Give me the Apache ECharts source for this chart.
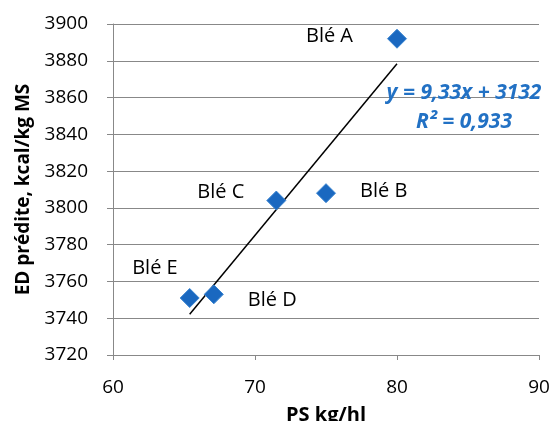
<!DOCTYPE html>
<html lang="fr">
<head>
    <meta charset="UTF-8">
    <title>ED prédite vs PS</title>
    <script src="https://cdn.jsdelivr.net/npm/echarts@6/dist/echarts.min.js"></script>
    <style>
        body { margin: 0; background: #fff; }
        #chart { width: 552px; height: 421px; }
    </style>
</head>
<body>
<div id="chart"></div>
<script>
    // valeurs
    var names = ['Blé A', 'Blé B', 'Blé C', 'Blé D', 'Blé E'];
    var ps = [80, 75, 71.5, 67.1, 65.4];
    var ed = [3892, 3808, 3804, 3753, 3751];
    var slope = 9.33, intercept = 3132;
    var xTicks = [60, 70, 80, 90];
    var yTicks = [3720, 3900, 20];

    // placement des étiquettes (style)
    var labelPos = ['left', 'right', 'left', 'right', 'left'];
    var labelOffset = [[-22, -2], [12, -2], [-10, -8], [12, 6], [10, -30]];

    var pts = names.map(function (n, i) {
        return {
            name: n,
            value: [ps[i], ed[i]],
            label: { position: labelPos[i], offset: labelOffset[i] }
        };
    });
    var xMin = Math.min.apply(null, ps), xMax = Math.max.apply(null, ps);
    var trend = [[xMin, slope * xMin + intercept], [xMax, slope * xMax + intercept]];

    var font = 'Open Sans';
    var grey = '#888888';
    var chart = echarts.init(document.getElementById('chart'));
    chart.setOption({
        animation: false,
        grid: { left: 113, right: 13, top: 24, bottom: 66, containLabel: false, outerBoundsMode: 'none' },
        xAxis: {
            type: 'value', min: xTicks[0], max: xTicks[xTicks.length - 1], interval: 10,
            name: 'PS kg/hl', nameLocation: 'middle', nameGap: 50,
            nameTextStyle: { fontFamily: font, fontWeight: 'bold', fontSize: 20, color: '#000' },
            axisLine: { lineStyle: { color: grey } },
            axisTick: { show: true, length: 5, lineStyle: { color: grey } },
            axisLabel: { fontFamily: font, fontSize: 19, color: '#000', margin: 23 },
            splitLine: { show: false }
        },
        yAxis: {
            type: 'value', min: yTicks[0], max: yTicks[1], interval: yTicks[2],
            name: 'ED prédite, kcal/kg MS', nameLocation: 'middle', nameGap: 80,
            nameTextStyle: { fontFamily: font, fontWeight: 'bold', fontSize: 19, color: '#000' },
            axisLine: { show: true, lineStyle: { color: grey } },
            axisTick: { show: true, length: 6, lineStyle: { color: grey } },
            axisLabel: {
                fontFamily: font, fontSize: 19, color: '#000', margin: 25,
                formatter: function (v) { return String(v); }
            },
            splitLine: { lineStyle: { color: grey, width: 1 } }
        },
        series: [
            {
                type: 'line', data: trend, symbol: 'none', silent: true,
                lineStyle: { color: '#000', width: 1.5 }, z: 3
            },
            {
                type: 'scatter', data: pts, symbol: 'diamond', symbolSize: 19,
                itemStyle: { color: '#1a68c0', borderColor: '#3a84d0', borderWidth: 1, opacity: 1 },
                label: {
                    show: true, formatter: '{b}', distance: 12,
                    fontFamily: font, fontSize: 20, color: '#000'
                },
                z: 4
            }
        ],
        graphic: [
            {
                type: 'text', x: 464, y: 79, z: 10,
                style: {
                    text: 'y = 9,33x + 3132\nR² = 0,933', align: 'center', verticalAlign: 'top',
                    fontFamily: font, fontSize: 21, fontWeight: 'bold', fontStyle: 'italic',
                    fill: '#2271c4', lineHeight: 29
                }
            }
        ]
    });
</script>
</body>
</html>
